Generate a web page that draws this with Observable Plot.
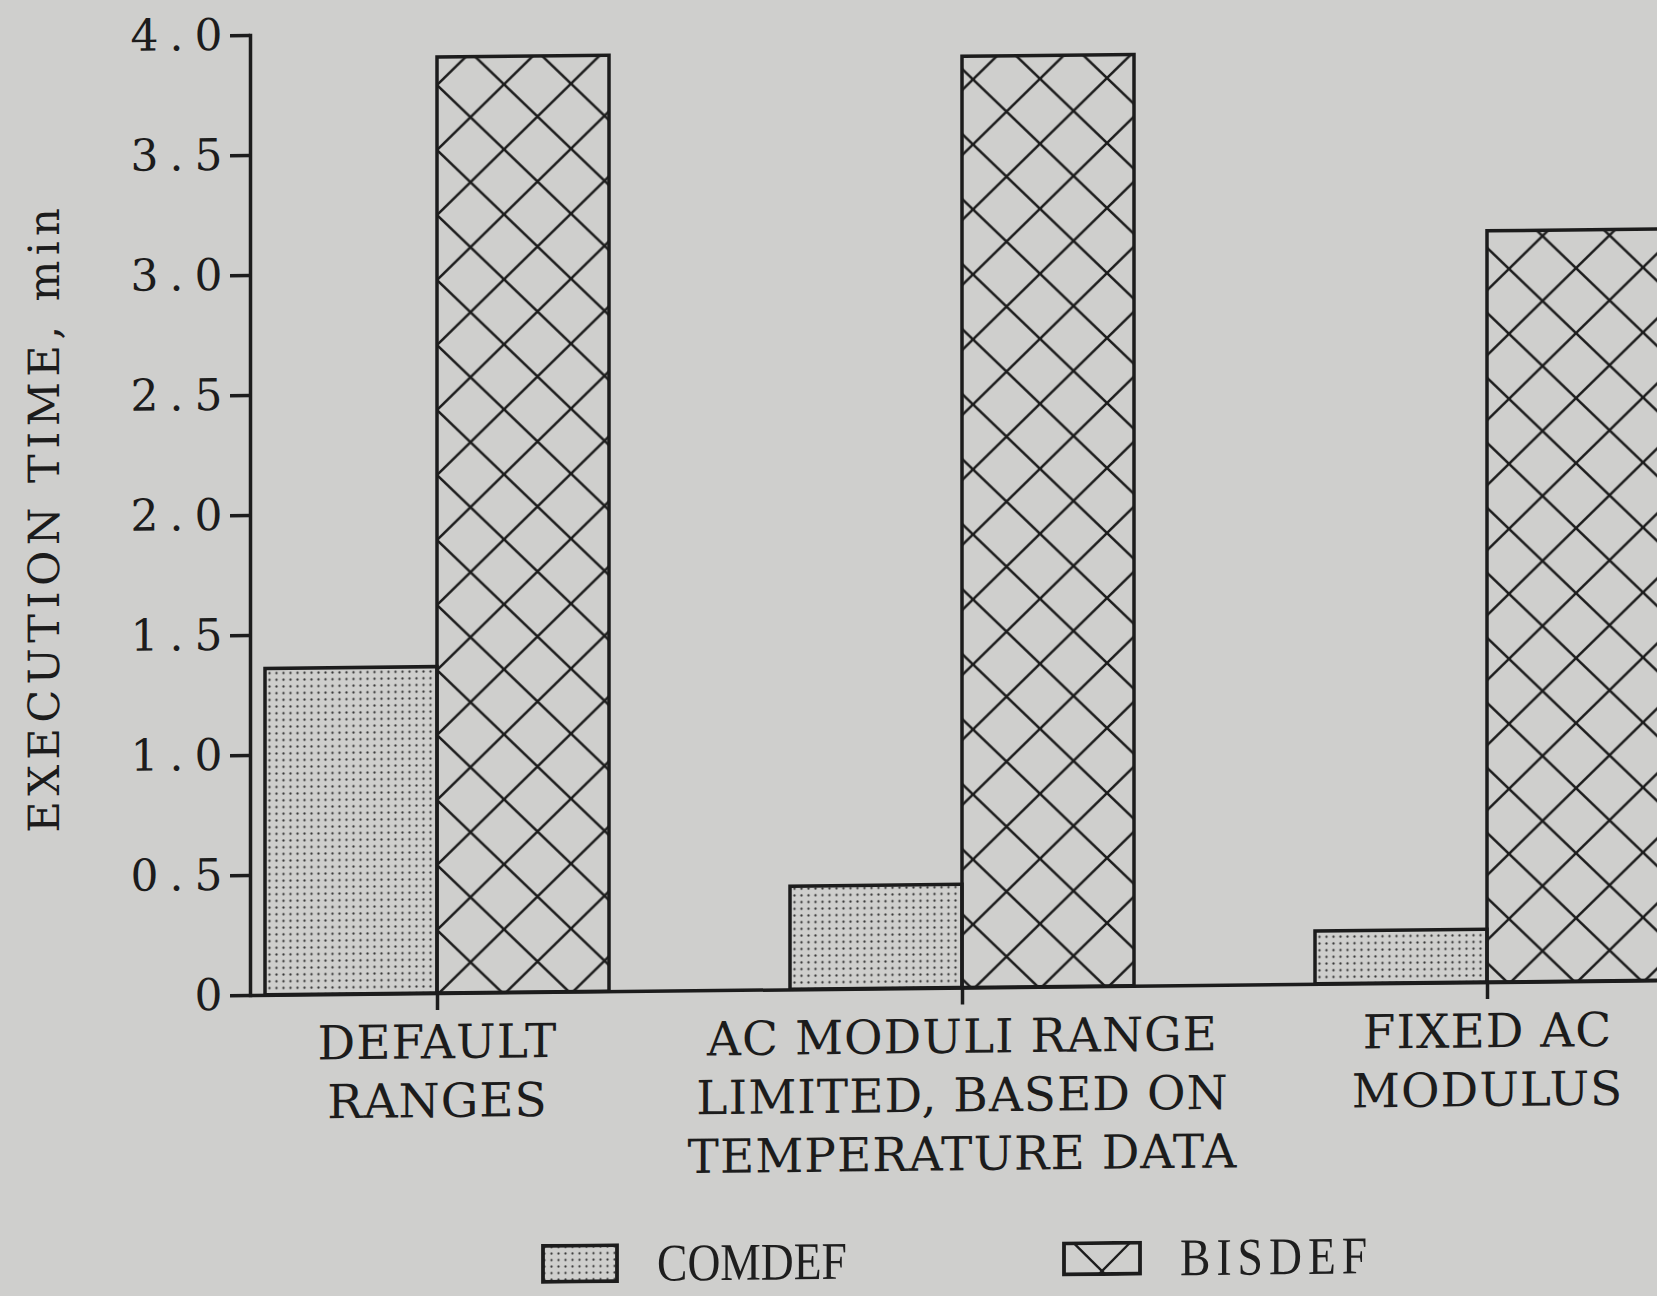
<!DOCTYPE html>
<html>
<head>
<meta charset="utf-8">
<script src="https://cdn.jsdelivr.net/npm/d3@7"></script>
<script src="https://cdn.jsdelivr.net/npm/@observablehq/plot@0.6"></script>
<style>
  html, body { margin: 0; padding: 0; background: #cfcfcd; overflow: hidden; }
  #wrap { position: relative; width: 1657px; height: 1296px; transform: skewY(-0.6deg); transform-origin: 250px 995px; }
  #chart svg { display: block; }
  g[aria-label="y-axis tick label"] text { font-size: 44px; letter-spacing: 11px; }
  g[aria-label="x-axis tick label"] text { font-size: 47px; letter-spacing: 1px; }
  g[aria-label="y-axis label"] text { font-size: 43px; letter-spacing: 5.5px; }
  #legend { position: absolute; left: 0; top: 1246px; width: 1657px; height: 50px; font-family: "Liberation Serif", serif; color: #1e1e1e; }
  .item { position: absolute; top: 0; display: flex; align-items: center; }
  .item span { display: inline-block; font-size: 53px; line-height: 42px; margin-left: 38px; transform: scaleX(0.86); transform-origin: left center; }
</style>
</head>
<body>
<div id="wrap">
  <div id="chart"></div>
  <div id="legend"></div>
</div>
<script>
const categories = ["DEFAULT\nRANGES", "AC MODULI RANGE\nLIMITED, BASED ON\nTEMPERATURE DATA", "FIXED AC\nMODULUS"];
const seriesNames = ["COMDEF", "BISDEF"];
const comdef = [1.36, 0.43, 0.22];
const bisdef = [3.90, 3.88, 3.13];
const yTicks = [0, 0.5, 1, 1.5, 2, 2.5, 3, 3.5, 4];
const yLabel = "EXECUTION TIME, min";

const ink = "#1c1c1c";
const comdefRows = categories.map((c, i) => ({category: c, series: seriesNames[0], value: comdef[i]}));
const bisdefRows = categories.map((c, i) => ({category: c, series: seriesNames[1], value: bisdef[i]}));

function defs() {
  const d = d3.create("svg:defs");
  const dots = d.append("pattern").attr("id", "dots").attr("patternUnits", "userSpaceOnUse")
    .attr("width", 7).attr("height", 6.7);
  dots.append("circle").attr("cx", 3.5).attr("cy", 3.3).attr("r", 1.2).attr("fill", "#3a3a3a");
  const hatch = d.append("pattern").attr("id", "hatch").attr("patternUnits", "userSpaceOnUse")
    .attr("x", 437).attr("y", 22).attr("width", 67).attr("height", 65);
  hatch.append("line").attr("x1", -6.7).attr("y1", -6.5).attr("x2", 73.7).attr("y2", 71.5)
    .attr("stroke", ink).attr("stroke-width", 2.5);
  hatch.append("line").attr("x1", 73.7).attr("y1", -6.5).attr("x2", -6.7).attr("y2", 71.5)
    .attr("stroke", ink).attr("stroke-width", 2.5);
  return d.node();
}

const chart = Plot.plot({
  width: 1657,
  height: 1235,
  marginLeft: 250,
  marginRight: 0,
  marginTop: 35,
  marginBottom: 240,
  style: {background: "transparent", fontFamily: "'DejaVu Serif', serif", color: ink, overflow: "visible"},
  x: {domain: categories, range: [174.5, 1749.5], paddingInner: 0.3448, paddingOuter: 0.1724, align: 0.5, axis: null},
  y: {domain: [0, 4], axis: null},
  marks: [
    defs,
    Plot.barY(comdefRows, {x: "category", y: "value", fill: "url(#dots)", stroke: ink, strokeWidth: 3.5, insetRight: 172}),
    Plot.barY(bisdefRows, {x: "category", y: "value", fill: "url(#hatch)", stroke: ink, strokeWidth: 3.5, insetLeft: 172}),
    Plot.ruleY([0], {stroke: ink, strokeWidth: 3.5}),
    Plot.frame({anchor: "left", stroke: ink, strokeWidth: 3.5}),
    Plot.axisY({
      ticks: yTicks,
      tickFormat: d => d === 0 ? "0" : d3.format(".1f")(d),
      tickSize: 20,
      tickPadding: -3,
      strokeWidth: 3.5,
      stroke: ink,
      fill: ink,
      label: yLabel,
      labelAnchor: "center",
      labelArrow: "none",
      labelOffset: 222
    }),
    Plot.axisX({
      tickSize: 17,
      tickPadding: 6,
      strokeWidth: 3.5,
      stroke: ink,
      fill: ink,
      lineHeight: 1.25,
      label: null
    })
  ]
});
document.getElementById("chart").appendChild(chart);

// Legend
const legend = d3.select("#legend");
const items = [
  {name: seriesNames[0], left: 541, w: 78, h: 40, kind: "dots", spacing: 0},
  {name: seriesNames[1], left: 1062, w: 80, h: 35, kind: "hatch", spacing: 7}
];
items.forEach(it => {
  const div = legend.append("div").attr("class", "item").style("left", it.left + "px");
  const s = div.append("svg").attr("width", it.w).attr("height", it.h);
  const d = s.append("defs");
  if (it.kind === "dots") {
    const p = d.append("pattern").attr("id", "ldots").attr("patternUnits", "userSpaceOnUse").attr("width", 7).attr("height", 6.5);
    p.append("circle").attr("cx", 3.5).attr("cy", 3.2).attr("r", 1.1).attr("fill", "#3a3a3a");
    s.append("rect").attr("x", 2).attr("y", 2).attr("width", it.w - 4).attr("height", it.h - 4)
      .attr("fill", "url(#ldots)").attr("stroke", ink).attr("stroke-width", 3.8);
  } else {
    s.append("rect").attr("x", 2).attr("y", 2).attr("width", it.w - 4).attr("height", it.h - 4)
      .attr("fill", "none").attr("stroke", ink).attr("stroke-width", 3.8);
    s.append("line").attr("x1", 12).attr("y1", 2).attr("x2", it.w / 2 + 3).attr("y2", it.h - 2).attr("stroke", ink).attr("stroke-width", 2.4);
    s.append("line").attr("x1", it.w - 12).attr("y1", 2).attr("x2", it.w / 2 - 3).attr("y2", it.h - 2).attr("stroke", ink).attr("stroke-width", 2.4);
  }
  div.append("span").style("letter-spacing", it.spacing + "px").text(it.name);
});
</script>
</body>
</html>
